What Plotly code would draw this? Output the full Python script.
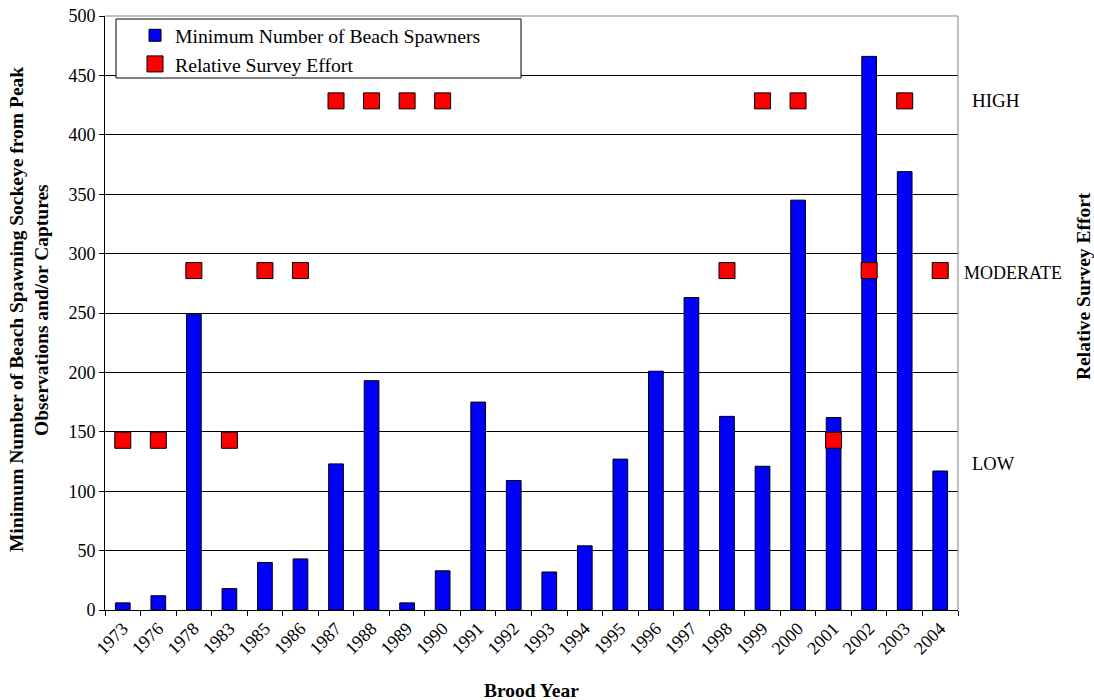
import plotly.graph_objects as go

years = ["1973", "1976", "1978", "1983", "1985", "1986", "1987", "1988", "1989", "1990",
         "1991", "1992", "1993", "1994", "1995", "1996", "1997", "1998", "1999", "2000",
         "2001", "2002", "2003", "2004"]
spawners = [6, 12, 249, 18, 40, 43, 123, 193, 6, 33,
            175, 109, 32, 54, 127, 201, 263, 163, 121, 345,
            162, 466, 369, 117]
effort = ["LOW", "LOW", "MODERATE", "LOW", "MODERATE", "MODERATE", "HIGH", "HIGH", "HIGH", "HIGH",
          None, None, None, None, None, None, None, "MODERATE", "HIGH", "HIGH",
          "LOW", "MODERATE", "HIGH", "MODERATE"]
effort_levels = {"LOW": 1, "MODERATE": 2, "HIGH": 3}
effort_vals = [effort_levels[e] if e else None for e in effort]

FONT = "Liberation Serif"

fig = go.Figure()
fig.add_trace(go.Bar(
    x=years, y=spawners, name="Minimum Number of Beach Spawners",
    marker=dict(color="#0000FF", line=dict(color="black", width=1)),
))
fig.add_trace(go.Scatter(
    x=years, y=effort_vals, name="Relative Survey Effort", yaxis="y2",
    mode="markers",
    marker=dict(symbol="square", size=16, color="#FF0000", line=dict(color="black", width=1)),
))


def ann(text, x, y, size, angle=0, xanchor="center"):
    return dict(text=text, textangle=angle, xref="paper", yref="paper", x=x, y=y,
                xanchor=xanchor, yanchor="middle", showarrow=False,
                font=dict(family=FONT, size=size, color="black"))


fig.update_layout(
    width=1094, height=700,
    margin=dict(l=105, r=136, t=16, b=90, autoexpand=False),
    plot_bgcolor="white", paper_bgcolor="white",
    font=dict(family=FONT, size=18, color="black"),
    bargap=0.586,
    showlegend=True,
    legend=dict(x=0.0352, y=1.0, xanchor="left", yanchor="top",
                bgcolor="rgba(0,0,0,0)", borderwidth=0,
                font=dict(family=FONT, size=19.7, color="black")),
    xaxis=dict(type="category", range=[-0.5, len(years) - 0.5], autorange=False,
               tickangle=-45, ticks="outside", tickson="boundaries",
               ticklen=5, tickcolor="black", showline=True, linecolor="black", linewidth=1,
               showgrid=False, automargin=False, ticklabeloverflow="allow",
               tickfont=dict(family=FONT, size=18)),
    yaxis=dict(range=[0, 500], dtick=50, ticks="outside", ticklen=5, tickcolor="black",
               showline=True, linecolor="black", linewidth=1, showgrid=True,
               gridcolor="black", gridwidth=1, zeroline=False, automargin=False,
               ticklabeloverflow="allow", tickfont=dict(family=FONT, size=18)),
    yaxis2=dict(overlaying="y", side="right", range=[0, 3.5], showticklabels=False,
                showgrid=False, zeroline=False, ticks="", showline=False, automargin=False),
    shapes=[
        dict(type="line", xref="paper", yref="paper", x0=0, x1=1, y0=1, y1=1,
             line=dict(color="#808080", width=1), layer="above"),
        dict(type="line", xref="paper", yref="paper", x0=1, x1=1, y0=0, y1=1,
             line=dict(color="#808080", width=1), layer="above"),
        dict(type="rect", xref="paper", yref="paper", x0=0.0129, x1=0.4877, y0=0.8956, y1=0.9949,
             line=dict(color="black", width=1), fillcolor="white", layer="above"),
    ],
    annotations=[
        ann("<b>Minimum Number of Beach Spawning Sockeye from Peak</b>", (16 - 105) / 853, 0.505, 19.5, -90),
        ann("<b>Observations and/or Captures</b>", (41 - 105) / 853, 0.505, 19.5, -90),
        ann("<b>Relative Survey Effort</b>", (1083 - 105) / 853, (610 - 286) / 594, 19.5, -90),
        ann("<b>Brood Year</b>", (531 - 105) / 853, (610 - 690) / 594, 19.5),
        ann("HIGH", (970 - 105) / 853, (610 - 101) / 594, 19, 0, "left"),
        ann("MODERATE", (962 - 105) / 853, (610 - 273) / 594, 18, 0, "left"),
        ann("LOW", (970 - 105) / 853, (610 - 464) / 594, 18.5, 0, "left"),
    ],
)

fig.write_html("out.html", config={"displayModeBar": False},
               post_script="document.body.style.margin='0px';document.body.style.overflow='hidden';")
